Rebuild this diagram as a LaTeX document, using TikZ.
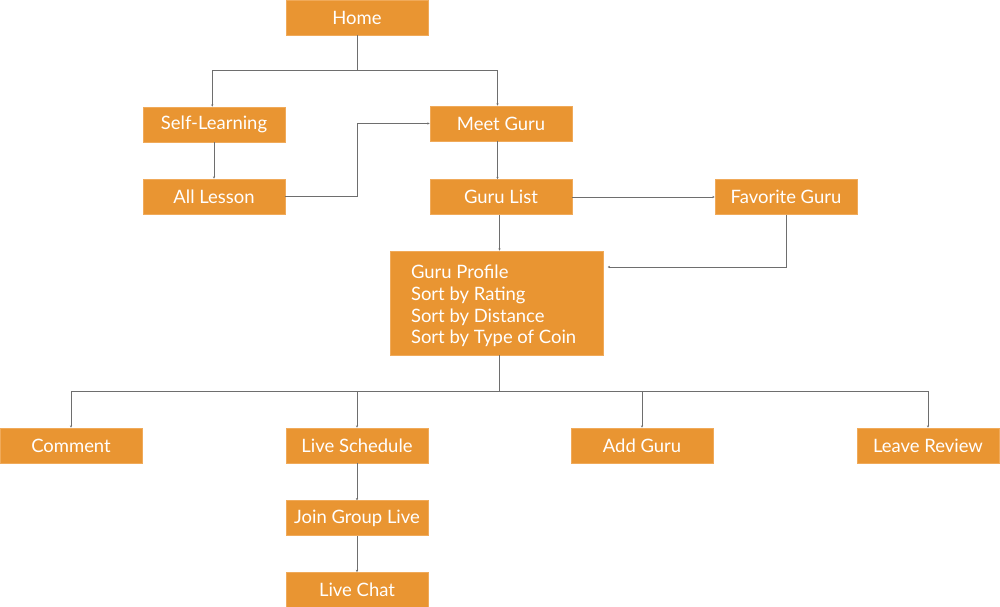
\documentclass[tikz,border=0pt]{standalone}
\usepackage{fontspec}
\setmainfont{Lato}
\usepackage{xcolor}
\usetikzlibrary{arrows.meta, positioning}

\definecolor{guruorange}{RGB}{233,149,50}
\definecolor{guruedge}{RGB}{240,170,90}
\definecolor{linkgray}{RGB}{110,110,110}

\begin{document}
\begin{tikzpicture}[
    x=0.02cm, y=-0.02cm,
    box/.style={rectangle, fill=guruorange, draw=guruedge, line width=0.4pt, minimum width=2.84cm, minimum height=0.7cm, inner sep=0pt, align=center, font=\fontsize{10.5}{12}\selectfont, text=white},
    bigbox/.style={box, minimum width=4.26cm, minimum height=2.08cm, align=left, font=\fontsize{10.5}{12.3}\selectfont},
    link/.style={draw=linkgray, line width=0.5pt},
    arrow/.style={link, -{Stealth[length=1.3pt, width=1.3pt]}}
]
\useasboundingbox (0,0) rectangle (1000,607);

% Top level
\node[box] (home) at (357,17.5) {Home};
\node[box] (self) at (214,124.5) {Self-Learning};
\node[box] (meet) at (501,123.5) {Meet Guru};
\node[box] (lesson) at (214,196.5) {All Lesson};
\node[box] (list) at (501,197) {Guru List};
\node[box] (fav) at (786,197) {Favorite Guru};

% Guru profile
\node[bigbox] (profile) at (496.5,303) {\parbox{3.42cm}{\vspace*{3.6pt}Guru Profile\\Sort by Rating\\Sort by Distance\\Sort by Type of Coin}};

% Bottom level
\node[box] (comment) at (71,445.5) {Comment};
\node[box] (sched) at (357,445.5) {Live Schedule};
\node[box] (add) at (642,445.5) {Add Guru};
\node[box] (review) at (928,445.5) {Leave Review};
\node[box, below=0.74cm of sched] (group) {Join Group Live};
\node[box, below=0.72cm of group] (chat) {Live Chat};

\coordinate (split) at (499.5,391);

% Arrows - Home split
\draw[arrow] (home.south) -- ++(0,35) -| ([xshift=-1pt]self.north);
\draw[arrow] (home.south) -- ++(0,35) -| ([xshift=-2pt]meet.north);
\draw[arrow] (self) -- (lesson);
\draw[arrow] (lesson.east) -- ++(72,0) |- (meet.west);

% Arrows - Guru flow
\draw[arrow] ([xshift=-2pt]meet.south) -- ([xshift=-2pt]list.north);
\draw[arrow] (list) -- (fav);
\draw[arrow] (split |- list.south) -- (split |- profile.north);
\draw[arrow] (fav.south) |- ([xshift=2.5pt, yshift=0.72cm]profile.east);

% Arrows - Profile split
\draw[link] (split |- profile.south) -- (split);
\draw[arrow] (split) -| (comment.north);
\draw[arrow] (split) -| (sched.north);
\draw[arrow] (split) -| (add.north);
\draw[arrow] (split) -| (review.north);
\draw[arrow] (sched) -- (group);
\draw[arrow] (group) -- (chat);

\end{tikzpicture}
\end{document}
